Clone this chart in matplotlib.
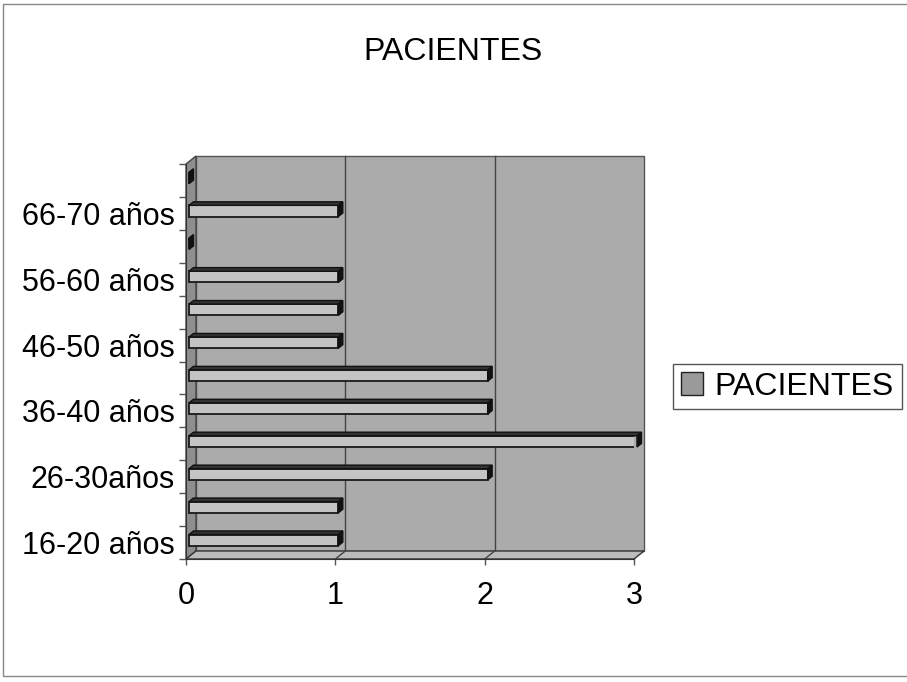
import numpy as np
import matplotlib.pyplot as plt
from matplotlib.patches import Polygon, Rectangle, Patch

plt.rcParams['font.family'] = ['Liberation Sans', 'DejaVu Sans']

# datos
categorias = ["16-20 años", "21-25 años", "26-30años", "31-35 años",
              "36-40 años", "41-45 años", "46-50 años", "51-55 años",
              "56-60 años", "61-65 años", "66-70 años", "71-75 años"]
pacientes = [1, 1, 2, 3, 2, 2, 1, 1, 1, 0, 1, 0]
valores_x = [0, 1, 2, 3]

W, H = 907, 682
fig = plt.figure(figsize=(W / 100, H / 100), dpi=100)
ax = fig.add_axes([186 / W, 123 / H, 448 / W, 395 / H])
ax.set_xlim(0, 3)
ax.set_ylim(-0.5, len(categorias) - 0.5)
ax.patch.set_visible(False)

# profundidad del efecto 3D (pixeles -> unidades de datos)
dx = 10 / (448 / 3)
dy = 8 / (395 / len(categorias))
y0, y1 = -0.5, len(categorias) - 0.5

# paredes y piso
ax.add_patch(Rectangle((dx, y0 + dy), 3, y1 - y0, fc='#ababab', ec='#555555',
                       lw=1, zorder=0, clip_on=False))
ax.add_patch(Polygon([(0, y0), (dx, y0 + dy), (dx, y1 + dy), (0, y1)],
                     fc='#8e8e8e', ec='#444444', lw=1, zorder=1, clip_on=False))
ax.add_patch(Polygon([(0, y0), (3, y0), (3 + dx, y0 + dy), (dx, y0 + dy)],
                     fc='#bcbcbc', ec='#333333', lw=1, zorder=1, clip_on=False))
for k in valores_x[1:-1]:
    ax.plot([k + dx, k + dx], [y0 + dy, y1 + dy], color='#444444', lw=1, zorder=0.5, clip_on=False)
    ax.plot([k, k + dx], [y0, y0 + dy], color='#444444', lw=1, zorder=1.5, clip_on=False)

# barras
f0, f1 = 0.3, 0.75
h = 0.34
ys = np.arange(len(categorias))
barras = ax.barh(ys + f0 * dy, pacientes, left=f0 * dx, height=h, color='#c4c4c4',
                 edgecolor='#1a1a1a', lw=1.3, zorder=3)
ddx, ddy = (f1 - f0) * dx, (f1 - f0) * dy
for b in barras:
    xl, yb = b.get_x(), b.get_y()
    xr, yt = xl + b.get_width(), yb + b.get_height()
    ax.add_patch(Polygon([(xl, yt), (xr, yt), (xr + ddx, yt + ddy), (xl + ddx, yt + ddy)],
                         fc='#333333', ec='#111111', lw=1, zorder=3, clip_on=False))
    ax.add_patch(Polygon([(xr, yb), (xr, yt), (xr + ddx, yt + ddy), (xr + ddx, yb + ddy)],
                         fc='#111111', ec='#111111', lw=1, zorder=3, clip_on=False))

# ejes
ax.set_yticks(ys[::2])
ax.set_yticklabels(categorias[::2])
ax.set_yticks(np.arange(y0, y1 + 0.1, 1), minor=True)
ax.tick_params(axis='y', which='major', length=0, pad=8, labelsize=22)
ax.tick_params(axis='y', which='minor', length=5, width=1, color='#555555')
ax.set_xticks(valores_x)
ax.tick_params(axis='x', length=4, width=1, color='#555555', pad=12, labelsize=22)
for s in ['top', 'right']:
    ax.spines[s].set_visible(False)
for s in ['left', 'bottom']:
    ax.spines[s].set_color('#333333')
    ax.spines[s].set_zorder(2)

fig.text(0.5, 1 - 60 / H, 'PACIENTES', ha='center', va='baseline', fontsize=23)

leg = fig.legend(handles=[Patch(fc='#9a9a9a', ec='#222222', lw=1)], labels=['PACIENTES'],
                 loc='center left', bbox_to_anchor=(673 / W, 1 - 386.5 / H),
                 borderaxespad=0, fontsize=23, handlelength=0.7, handleheight=0.7,
                 handletextpad=0.35, borderpad=0.25, fancybox=False, framealpha=1)
leg.get_frame().set_edgecolor('#555555')
leg.get_frame().set_linewidth(1)

fig.add_artist(Rectangle((3 / W, 6 / H), 1.0, 1 - 10 / H, transform=fig.transFigure,
                         fill=False, ec='#888888', lw=1))

fig.savefig('out.png', dpi=100)
